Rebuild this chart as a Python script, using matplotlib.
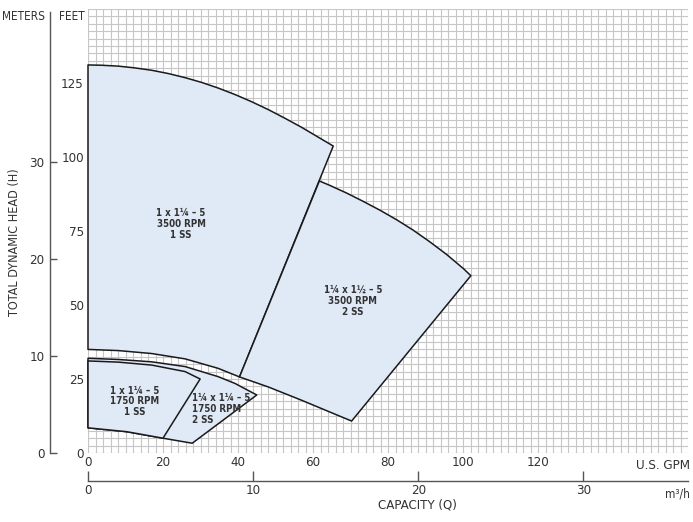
import numpy as np
import matplotlib
matplotlib.use("Agg")
import matplotlib.pyplot as plt
from matplotlib.patches import Polygon
from matplotlib import font_manager

# ---------------- data (GPM, feet) ----------------
r1_top_x = [0, 3.6, 8.1, 12.5, 17.0, 21.4, 25.9, 30.3, 34.7, 39.2, 43.6, 48.1, 52.5, 57.0, 61.4, 65.4]
r1_top_y = [131.1, 131.0, 130.7, 130.1, 129.3, 128.2, 126.8, 125.2, 123.3, 121.1, 118.7, 116.0, 113.1, 110.0, 106.7, 103.7]
r1_bot_x = [40.4, 34.7, 25.9, 17.0, 8.1, 0]
r1_bot_y = [25.7, 28.6, 31.8, 33.6, 34.6, 35.0]

r2_top_x = [61.7, 64.5, 69.0, 73.4, 77.9, 82.3, 86.7, 91.2, 95.7, 100.1, 102.1]
r2_top_y = [91.9, 90.4, 87.8, 85.0, 82.0, 78.8, 75.3, 71.3, 67.0, 62.3, 59.9]
r2_bot_x = [70.3, 65.9, 57.0, 48.1, 40.4]
r2_bot_y = [10.8, 13.1, 17.8, 22.3, 25.7]

r3_top_x = [0, 8.1, 17.0, 25.9, 29.9]
r3_top_y = [31.1, 30.7, 29.7, 27.5, 25.0]
r3_bot_x = [20.0, 10.3, 0]
r3_bot_y = [5.0, 7.2, 8.5]

r4_top_x = [0, 8.1, 17.0, 25.9, 34.7, 39.2, 45.0]
r4_top_y = [32.0, 31.6, 30.8, 29.2, 25.8, 23.5, 19.6]
r4_bot_x = [27.8, 20.0, 10.3, 0]
r4_bot_y = [3.3, 5.0, 7.2, 8.5]

labels = ["1 x 1¼ – 5\n3500 RPM\n1 SS",
          "1¼ x 1½ – 5\n3500 RPM\n2 SS",
          "1 x 1¼ – 5\n1750 RPM\n1 SS",
          "1¼ x 1¼ – 5\n1750 RPM\n2 SS"]
label_x = [24.8, 70.6, 12.5, 27.7]
label_y = [77.4, 51.4, 17.4, 14.8]

gpm_ticks = [0, 20, 40, 60, 80, 100, 120]
feet_ticks = [0, 25, 50, 75, 100, 125]
meter_ticks = [0, 10, 20, 30]
m3h_ticks = [0, 10, 20, 30]

FT_PER_M = 3.28084
GPM_PER_M3H = 4.403

# ---------------- fonts ----------------
ttf = font_manager.fontManager.ttflist
names = {f.name for f in ttf}
if any(f.name == "DejaVu Sans" and f.stretch == "condensed" for f in ttf):
    plt.rcParams["font.family"] = ["DejaVu Sans"]
    plt.rcParams["font.stretch"] = "condensed"
elif "Liberation Sans Narrow" in names:
    plt.rcParams["font.family"] = ["Liberation Sans Narrow", "DejaVu Sans"]
else:
    plt.rcParams["font.family"] = ["Liberation Sans", "DejaVu Sans"]

TXT = "#333333"
W, H = 693, 522
fig = plt.figure(figsize=(W / 100, H / 100), dpi=100)

def fx(px):
    return px / W

def fy(py):
    return 1 - py / H

L, R, T, B = 88, 688, 9, 453
ax = fig.add_axes([fx(L), fy(B), (R - L) / W, (B - T) / H])
ax.set_xlim(0, 160)
ax.set_ylim(0, 150)
for s in ax.spines.values():
    s.set_visible(False)
ax.set_xticks(np.arange(0, 161, 2), minor=True)
ax.set_yticks(np.arange(0, 151, 2.5), minor=True)
ax.set_xticks(gpm_ticks)
ax.set_xticklabels([str(v) for v in gpm_ticks], fontsize=9.5, color=TXT)
ax.set_yticks(feet_ticks)
ax.set_yticklabels([str(v) for v in feet_ticks], fontsize=9.5, color=TXT)
ax.tick_params(which="both", length=0)
ax.tick_params(axis="x", pad=2)
ax.tick_params(axis="y", pad=3)
ax.grid(which="both", color="#c6c6c6", linewidth=0.8)
ax.set_axisbelow(True)

fill = "#e0e9f6"
edge = "#1a1a1a"
lw = 1.1

def poly(tx, ty, bx, by, z):
    pts = list(zip(tx, ty)) + list(zip(bx, by))
    p = Polygon(pts, closed=True, facecolor=fill, edgecolor=edge,
                linewidth=lw, joinstyle="round", zorder=z, clip_on=False)
    ax.add_patch(p)

poly(r1_top_x, r1_top_y, r1_bot_x, r1_bot_y, 3)
poly(r2_top_x, r2_top_y, r2_bot_x, r2_bot_y, 4)
poly(r4_top_x, r4_top_y, r4_bot_x, r4_bot_y, 3)
poly(r3_top_x, r3_top_y, r3_bot_x, r3_bot_y, 4)

for i, (t, x, y) in enumerate(zip(labels, label_x, label_y)):
    ha = "left" if i == 3 else "center"
    ax.text(x, y, t, ha=ha, va="center", multialignment=ha, fontsize=7,
            fontweight="bold", color=TXT, linespacing=1.1, zorder=6)

ax.text(1.003, -0.0125, "U.S. GPM", transform=ax.transAxes, ha="right", va="top",
        fontsize=9.5, color=TXT)

# ---------------- meters axis ----------------
axm = fig.add_axes([fx(50), fy(B), 0.0005, (B - 12) / H])
axm.set_ylim(0, (150 - 1.0) / FT_PER_M)
axm.patch.set_visible(False)
for k, s in axm.spines.items():
    s.set_visible(k == "left")
axm.spines["left"].set_color("#555555")
axm.spines["left"].set_linewidth(1.0)
axm.set_xticks([])
axm.set_yticks(meter_ticks)
axm.set_yticklabels([str(v) for v in meter_ticks], fontsize=9.5, color=TXT)
axm.tick_params(axis="y", direction="in", length=5, width=1.0, color="#555555", pad=4)

# ---------------- m3/h axis ----------------
axq = fig.add_axes([fx(L), fy(481), (R - L) / W, 0.0005])
axq.set_xlim(0, 160 / GPM_PER_M3H)
axq.patch.set_visible(False)
for k, s in axq.spines.items():
    s.set_visible(k == "bottom")
axq.spines["bottom"].set_color("#555555")
axq.spines["bottom"].set_linewidth(1.0)
axq.set_yticks([])
axq.set_xticks(m3h_ticks)
axq.set_xticklabels([str(v) for v in m3h_ticks], fontsize=9.5, color=TXT)
axq.tick_params(axis="x", direction="in", length=7, width=1.0, color="#555555", pad=2)

# ---------------- titles ----------------
fig.text(fx(45), fy(16), "METERS", ha="right", va="center", fontsize=8.5, color=TXT)
fig.text(fx(85), fy(16), "FEET", ha="right", va="center", fontsize=8.5, color=TXT)
fig.text(fx(15), fy(242), "TOTAL DYNAMIC HEAD (H)", rotation=90, ha="center",
         va="center", fontsize=9, color=TXT)
fig.text(fx(417), fy(505), "CAPACITY (Q)", ha="center", va="center", fontsize=9.5,
         color=TXT)
fig.text(fx(690), fy(494), "m³/h", ha="right", va="center", fontsize=8.5, color=TXT)

fig.savefig("out.png", dpi=100)
